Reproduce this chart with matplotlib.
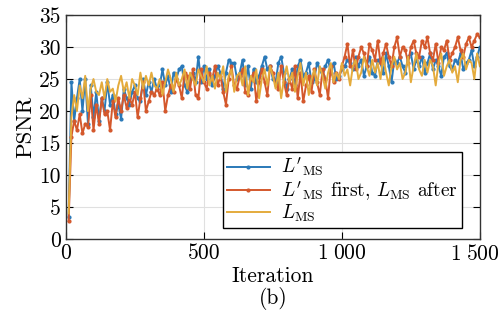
import numpy as np
import matplotlib.pyplot as plt
import matplotlib.transforms as mtransforms

plt.rcParams['font.family'] = 'serif'
plt.rcParams['font.serif'] = ['cmr10', 'DejaVu Serif']
plt.rcParams['mathtext.fontset'] = 'cm'
plt.rcParams['axes.unicode_minus'] = False

iters = np.arange(10, 1510, 10)

psnr_mod = [3.5, 24.5, 18.5, 22, 25, 20, 25, 18, 24, 19,
            23, 18.5, 22, 20, 24.5, 21, 22.5, 19.5, 21, 18.8,
            23.5, 22, 21, 23, 24, 22, 21.5, 25, 22.5, 24.5,
            23, 25, 23.5, 24, 26.5, 24, 25.5, 23, 26, 25,
            26.5, 27, 24, 23, 25, 26, 24.5, 28.5, 24.5, 27,
            25, 26.5, 24, 25.5, 27, 26, 23.5, 26, 28, 27.5,
            27.5, 25, 26, 28, 24, 27, 23.5, 26.5, 24.5, 25.5,
            27, 28.5, 26.5, 27, 25, 24.5, 27.5, 28.5, 26, 23.5,
            25, 26.5, 24, 27, 28, 25.5, 26, 27.5, 24.5, 25,
            27.5, 26.5, 25.5, 27, 28, 26, 27.5, 25, 25.5, 26.5,
            27, 28, 27.5, 26.5, 28.5, 27, 28, 25.5, 27, 28.5,
            26, 25.5, 28, 27.5, 26, 29, 27, 24.5, 28, 27.5,
            28.5, 27, 26, 28.5, 29, 26.5, 28, 27, 28.5, 26,
            27.5, 29, 26.5, 28, 27, 25.5, 28.5, 29, 27, 26.5,
            28, 27.5, 29, 26.5, 27.5, 28, 29.5, 27, 28.5, 30]

psnr_switch = [2.8, 16, 18.5, 17, 19.5, 16.5, 18, 17.5, 22.5, 17,
               21, 18, 22, 19.5, 20, 17, 21.5, 19, 22, 20,
               22.5, 20.5, 22, 21, 23, 19, 22, 24.5, 20, 21.5,
               23, 22.5, 23.5, 22.5, 24.5, 20, 22.5, 24, 23, 25,
               24, 22, 26, 25.5, 23.5, 26.5, 22.5, 22, 26.5, 24.5,
               23.5, 26, 25, 27, 24, 25.5, 23, 21, 25, 27,
               24, 23.5, 25.5, 26.5, 23, 22.5, 25, 26, 21.5, 24.5,
               26.5, 24.5, 22.5, 27, 26, 24, 23.5, 27, 24.5, 22.5,
               25, 23.5, 27, 22, 26, 21.5, 24, 25.5, 23, 26.5,
               24.5, 22.5, 26.5, 25, 22, 27, 24.5, 26, 25, 27,
               28.5, 30.5, 27, 29.5, 26.5, 28.5, 30, 29, 27, 30.5,
               29.5, 28, 31, 27.5, 29, 30.5, 28.5, 27, 30, 31.5,
               28.5, 30, 29.5, 27.5, 30, 31, 29, 28.5, 31, 30,
               31.5, 29, 28, 30.5, 27.5, 30, 29.5, 31, 28, 29,
               30, 31.5, 29.5, 28.5, 30.5, 31.5, 30, 31, 32, 31.5]

psnr_ms = [4, 19, 22.5, 20, 24, 22, 25.5, 20, 23.5, 25,
           23, 22.5, 24.5, 22, 25, 23, 23.5, 21.5, 24, 25.5,
           23, 24.5, 22, 25, 24, 22.5, 26, 23.5, 25.5, 24,
           26, 24, 23.5, 25, 22.5, 24.5, 26.5, 25, 23, 26,
           24, 25, 26.5, 23.5, 26, 25, 24, 26.5, 25.5, 24.5,
           27, 24, 25.5, 23.5, 26, 25, 27, 23, 25.5, 26.5,
           23, 25.5, 26, 24, 27, 22.5, 25.5, 24.5, 26.5, 22,
           25, 26.5, 24, 27, 25.5, 23.5, 26, 22, 25, 27,
           24.5, 26, 23, 25.5, 27.5, 24, 26, 22.5, 25, 26.5,
           24, 27, 25.5, 23.5, 26, 27.5, 24.5, 26, 25, 27.5,
           25.5, 26.5, 24, 27, 28, 25, 26, 28.5, 27, 25.5,
           28, 26, 27.5, 25, 28.5, 26, 24, 27, 28.5, 26.5,
           27.5, 25, 26, 28.5, 24.5, 27, 29, 26.5, 25.5, 28,
           26, 28, 27, 24, 27.5, 29, 25.5, 27, 28, 26,
           27, 24.5, 28, 29, 26.5, 28, 27.5, 25, 29, 27]

xticks = [0, 500, 1000, 1500]
xtick_labels = ['0', '500', r'$1\;000$', r'$1\;500$']

fig = plt.figure(figsize=(5.03, 3.2), dpi=100)
ax = fig.add_axes([0.131, 0.253, 0.823, 0.700])

ax.plot(iters, psnr_mod, color='#2a79b8', lw=1.4, marker='.', ms=4,
        label=r"$L'_{\mathrm{MS}}$")
ax.plot(iters, psnr_switch, color='#d4582c', lw=1.4, marker='.', ms=4,
        label=r"$L'_{\mathrm{MS}}$ first, $L_{\mathrm{MS}}$ after")
ax.plot(iters, psnr_ms, color='#e4ab3c', lw=1.4,
        label=r"$L_{\mathrm{MS}}$")

ax.set_xlim(0, 1500)
ax.set_ylim(0, 35)
ax.set_xticks(xticks)
ax.set_xticklabels(xtick_labels)
ax.set_yticks(range(0, 36, 5))
ax.tick_params(direction='in', top=True, right=True, labelsize=15.5, length=5)
ax.grid(color='#e0e0e0', lw=0.8)
for s in ax.spines.values():
    s.set_color('#333333')
    s.set_linewidth(1.0)

# keep the last tick label inside the figure
last = ax.get_xticklabels()[-1]
last.set_transform(last.get_transform() +
                   mtransforms.ScaledTranslation(-5 / 100, 0, fig.dpi_scale_trans))

ax.set_ylabel('PSNR', fontsize=16.5, labelpad=3)
ax.set_xlabel('Iteration\n(b)', fontsize=15.5, labelpad=2, linespacing=1.05)

leg = ax.legend(loc='lower right', bbox_to_anchor=(0.957, 0.049), fontsize=14,
                fancybox=False, edgecolor='black', framealpha=1,
                handlelength=2.2, borderpad=0.2, labelspacing=0.0,
                handletextpad=0.6, borderaxespad=0)
leg.get_frame().set_linewidth(1.0)

fig.savefig('out.png', dpi=100)
